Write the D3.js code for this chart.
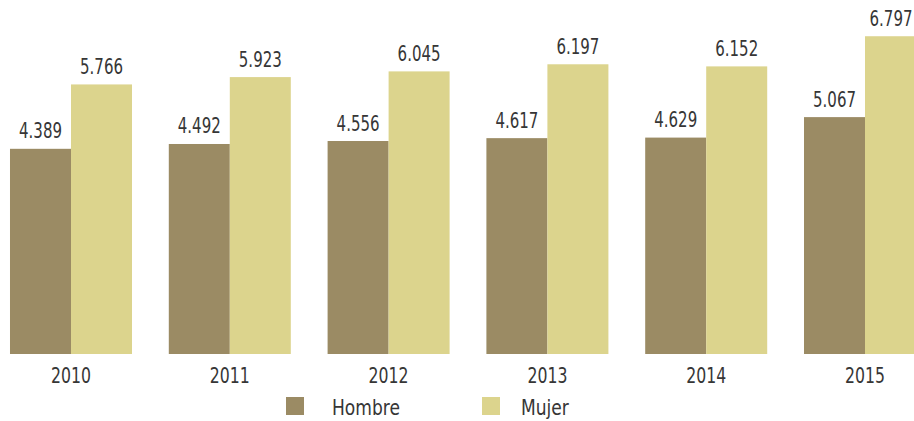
<!DOCTYPE html>
<html>
<head>
<meta charset="utf-8">
<script src="https://cdn.jsdelivr.net/npm/d3@7"></script>
<style>
  html, body { margin: 0; padding: 0; background: #ffffff; }
  svg { display: block; }
  text { font-family: 'DejaVu Sans Condensed', 'DejaVu Sans', sans-serif; fill: #363636; font-size: 21.5px; }
</style>
</head>
<body>
<svg id="chart" width="914" height="421"></svg>
<script>
const years = ["2010", "2011", "2012", "2013", "2014", "2015"];
const seriesNames = ["Hombre", "Mujer"];
const hombre = [4.389, 4.492, 4.556, 4.617, 4.629, 5.067];
const mujer = [5.766, 5.923, 6.045, 6.197, 6.152, 6.797];
const valueLabels = {
  Hombre: ["4.389", "4.492", "4.556", "4.617", "4.629", "5.067"],
  Mujer: ["5.766", "5.923", "6.045", "6.197", "6.152", "6.797"]
};
const colors = ["#9b8b64", "#dcd48d"];

const svg = d3.select("#chart");
const W = 914, H = 421;
const baseY = 354;

// measure helper for horizontal condensing (reference uses a narrow typeface)
const probe = svg.append("text").attr("x", -1000).attr("y", -1000);
function measure(s) { probe.text(s); return probe.node().getComputedTextLength(); }
const sxVal = 43 / measure("4.389");
const sxYear = 40 / measure("2010");
const sxLeg = 68 / measure("Hombre");
probe.remove();

const x0 = d3.scaleBand()
  .domain(years)
  .range([-8.4, 944.4])
  .paddingInner(0.2317)
  .paddingOuter(0.1158);

const x1 = d3.scaleBand()
  .domain(seriesNames)
  .range([0, x0.bandwidth()]);

const y = d3.scaleLinear()
  .domain([0, 7.572])
  .range([baseY, 0]);

const color = d3.scaleOrdinal().domain(seriesNames).range(colors);

const rows = years.map((yr, i) => ({
  year: yr,
  values: [
    { key: "Hombre", value: hombre[i], label: valueLabels.Hombre[i] },
    { key: "Mujer", value: mujer[i], label: valueLabels.Mujer[i] }
  ]
}));

svg.append("defs").append("clipPath").attr("id", "clip")
  .append("rect").attr("x", 0).attr("y", 0).attr("width", W).attr("height", H);
const plot = svg.append("g").attr("clip-path", "url(#clip)");

const groups = plot.selectAll("g.grp")
  .data(rows)
  .join("g")
  .attr("class", "grp")
  .attr("transform", d => `translate(${x0(d.year)},0)`);

groups.selectAll("rect")
  .data(d => d.values)
  .join("rect")
  .attr("x", d => x1(d.key))
  .attr("y", d => y(d.value))
  .attr("width", x1.bandwidth())
  .attr("height", d => baseY - y(d.value))
  .attr("fill", d => color(d.key));

// value labels
const labelLayer = svg.append("g");
rows.forEach(r => {
  r.values.forEach(v => {
    let cx = x0(r.year) + x1(v.key) + x1.bandwidth() / 2;
    const g = labelLayer.append("g");
    const t = g.append("text").attr("text-anchor", "middle").text(v.label);
    const w = t.node().getComputedTextLength() * sxVal;
    cx = Math.min(cx, W - 1.5 - w / 2);
    g.attr("transform", `translate(${cx},${y(v.value) - 10.5}) scale(${sxVal},1)`);
  });
});

// x axis labels
const xAxis = d3.axisBottom(x0).tickSize(0).tickPadding(0);
const axisG = svg.append("g")
  .attr("transform", `translate(0,${baseY})`)
  .call(xAxis);
axisG.select(".domain").remove();
axisG.selectAll(".tick text")
  .attr("dy", null)
  .attr("y", 0)
  .attr("transform", `translate(0,29) scale(${sxYear},1)`)
  .attr("font-size", null)
  .attr("font-family", null)
  .style("font-size", "21.5px")
  .style("font-family", "'DejaVu Sans Condensed', 'DejaVu Sans', sans-serif")
  .attr("fill", "#363636");

// legend
const legendSquareX = [286, 482];
const legendTextX = [332, 521];
const legend = svg.append("g");
seriesNames.forEach((s, i) => {
  legend.append("rect")
    .attr("x", legendSquareX[i]).attr("y", 397)
    .attr("width", 18).attr("height", 18)
    .attr("fill", color(s));
  legend.append("g")
    .attr("transform", `translate(${legendTextX[i]},415) scale(${sxLeg},1)`)
    .append("text")
    .text(s);
});
</script>
</body>
</html>
